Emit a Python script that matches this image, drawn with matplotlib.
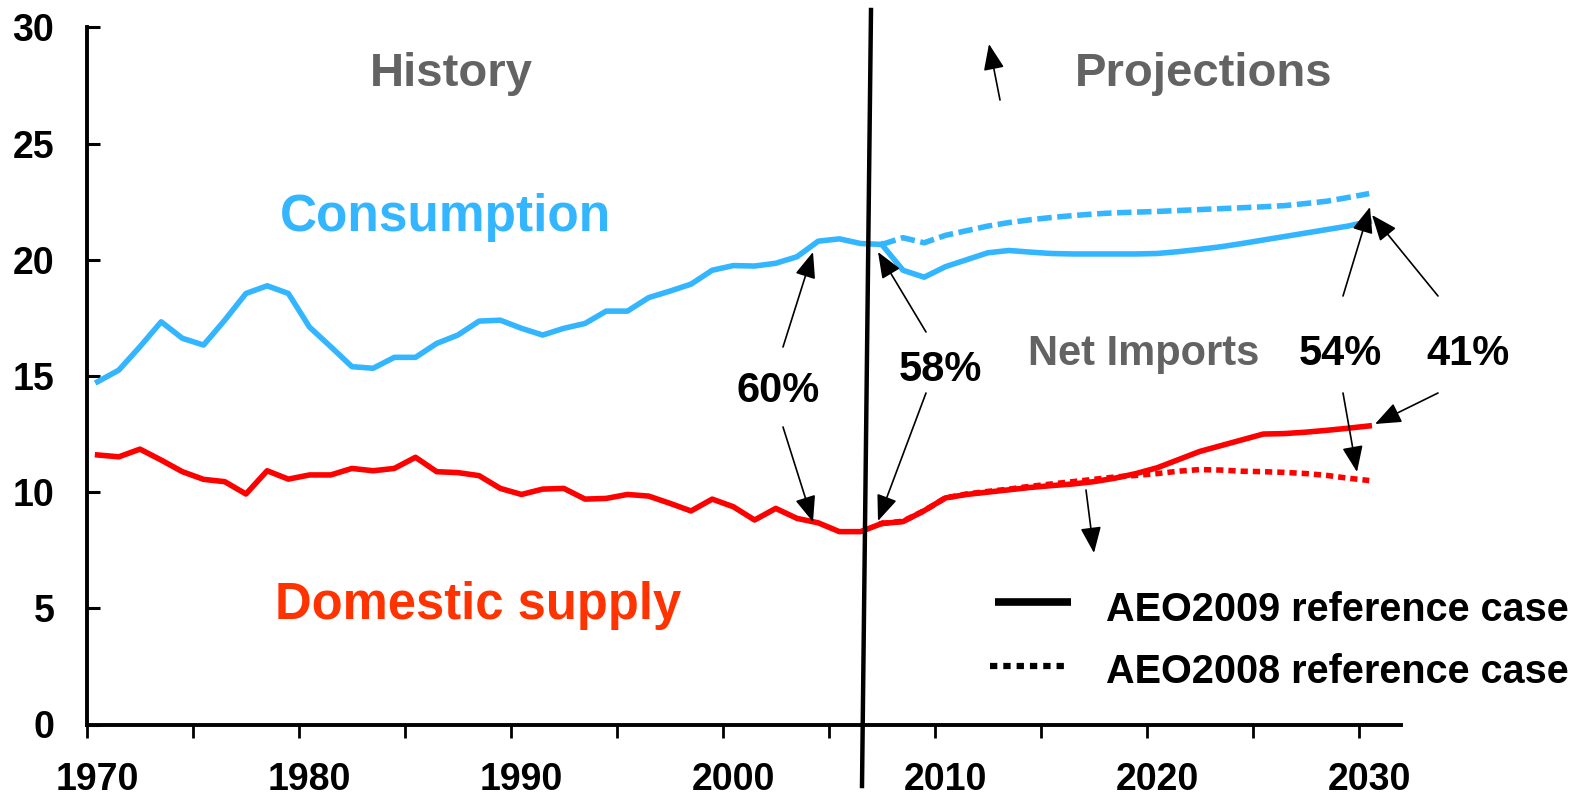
import matplotlib

matplotlib.use("Agg")
import matplotlib.pyplot as plt
from matplotlib.lines import Line2D
from matplotlib.patches import FancyArrowPatch

plt.rcParams["font.family"] = ["Liberation Sans", "DejaVu Sans"]
plt.rcParams["font.weight"] = "bold"

# history, 1970-2007 (million barrels per day)
years_hist = list(range(1970, 2008))
consumption_hist = [14.75, 15.25, 16.26, 17.33, 16.62, 16.33, 17.4, 18.55, 18.88, 18.55,
                    17.1, 16.26, 15.4, 15.33, 15.8, 15.8, 16.4, 16.76, 17.36, 17.4,
                    17.05, 16.76, 17.05, 17.26, 17.79, 17.79, 18.37, 18.65, 18.95, 19.55,
                    19.75, 19.73, 19.85, 20.13, 20.8, 20.9, 20.7, 20.66]
supply_hist = [11.6, 11.52, 11.85, 11.38, 10.88, 10.55, 10.45, 9.92, 10.92, 10.56,
               10.74, 10.74, 11.02, 10.92, 11.02, 11.5, 10.88, 10.84, 10.71, 10.16,
               9.9, 10.13, 10.16, 9.7, 9.73, 9.9, 9.83, 9.52, 9.19, 9.7,
               9.37, 8.8, 9.3, 8.87, 8.68, 8.3, 8.3, 8.65]

# projections, 2007-2030
years_proj = list(range(2007, 2031))
consumption_aeo2009 = [20.66, 19.55, 19.25, 19.7, 20.0, 20.3, 20.4, 20.33, 20.27, 20.25,
                       20.25, 20.25, 20.25, 20.27, 20.35, 20.45, 20.56, 20.7, 20.85, 21.0,
                       21.15, 21.3, 21.45, 21.65]
consumption_aeo2008 = [20.66, 20.95, 20.73, 21.05, 21.25, 21.45, 21.6, 21.72, 21.82, 21.9,
                       21.97, 22.02, 22.05, 22.08, 22.12, 22.16, 22.2, 22.24, 22.28, 22.33,
                       22.42, 22.52, 22.68, 22.85]
supply_aeo2009 = [8.65, 8.73, 9.2, 9.75, 9.9, 10.0, 10.1, 10.2, 10.28, 10.35,
                  10.45, 10.6, 10.8, 11.05, 11.4, 11.75, 12.0, 12.25, 12.5, 12.52,
                  12.58, 12.66, 12.75, 12.85]
supply_aeo2008 = [8.65, 8.75, 9.2, 9.75, 9.92, 10.03, 10.13, 10.25, 10.35, 10.45,
                  10.55, 10.65, 10.72, 10.8, 10.9, 10.97, 10.95, 10.9, 10.88, 10.85,
                  10.8, 10.72, 10.6, 10.5]

decade_labels = [1970, 1980, 1990, 2000, 2010, 2020, 2030]

BLUE = "#33B6FF"
RED = "#FF0000"
GRAY = "#636363"
LW = 4.0
W, H = 1591, 795


def fp(x, y):
    """pixel position in the picture -> figure fraction"""
    return (x / W, 1 - y / H)


fig = plt.figure(figsize=(W / 100, H / 100), dpi=100)
ax = fig.add_axes([87 / W, (H - 724.5) / H, (1401 - 87) / W, (724.5 - 27.4) / H])

ax.plot(years_hist, consumption_hist, color=BLUE, lw=LW, solid_joinstyle="round")
ax.plot(years_hist, supply_hist, color=RED, lw=LW, solid_joinstyle="round")
ax.plot(years_proj, consumption_aeo2009, color=BLUE, lw=LW)
ax.plot(years_proj, supply_aeo2009, color=RED, lw=LW)
ax.plot(years_proj, consumption_aeo2008, color=BLUE, lw=LW, dashes=(2.6, 1.0))
ax.plot(years_proj, supply_aeo2008, color=RED, lw=LW, dashes=(1.3, 0.9))

ax.set_xlim(1969.5, 2031.5)
ax.set_ylim(0, 30)
ax.set_xticks([1969.5 + 5 * k for k in range(13)])
ax.set_xticklabels([])
ax.set_xticks(decade_labels, minor=True)
ax.set_xticklabels([str(y) for y in decade_labels], minor=True)
ax.set_yticks(range(0, 31, 5))
ax.tick_params(axis="x", which="major", direction="out", length=9.5, width=2)
ax.tick_params(axis="x", which="minor", length=0, pad=27, labelsize=27)
ax.tick_params(axis="y", direction="in", length=9, width=2.2, pad=23.5, labelsize=27)
for lab in ax.get_xticklabels(minor=True) + ax.get_yticklabels():
    lab.set_fontweight("bold")
for side in ("top", "right"):
    ax.spines[side].set_visible(False)
for side in ("left", "bottom"):
    ax.spines[side].set_linewidth(2.8)

# history / projections divider
fig.add_artist(Line2D([fp(871, 10)[0], fp(862, 786)[0]], [fp(871, 10)[1], fp(862, 786)[1]],
                      transform=fig.transFigure, color="black", lw=3.2))

texts = [
    ("History", 451, 86, GRAY, 34),
    ("Projections", 1204, 86, GRAY, 34),
    ("Consumption", 446, 231, BLUE, 37),
    ("Domestic supply", 478, 619, "#FF3300", 36.5),
    ("Net Imports", 1144, 365, GRAY, 30),
    ("60%", 778, 402, "black", 30),
    ("58%", 940, 381, "black", 30),
    ("54%", 1340, 365, "black", 30),
    ("41%", 1468, 365, "black", 30),
]
for s, x, y, c, size in texts:
    fig.text(*fp(x, y), s, color=c, fontsize=size, fontweight="bold",
             ha="center", va="baseline")

arrows = [
    ((783, 347), (813, 252)),
    ((783, 427), (813, 522)),
    ((926, 332), (878, 252)),
    ((926, 393), (878, 521)),
    ((1343, 296), (1370, 207)),
    ((1438, 296), (1372, 215)),
    ((1343, 393), (1357, 472)),
    ((1438, 393), (1375, 424)),
    ((1000, 100), (989, 44)),
    ((1086, 490), (1094, 553)),
]
for tail, tip in arrows:
    fig.add_artist(FancyArrowPatch(
        fp(*tail), fp(*tip), transform=fig.transFigure,
        arrowstyle="-|>,head_length=0.8,head_width=0.32", mutation_scale=20,
        color="black", lw=1.2, shrinkA=0, shrinkB=0))

# legend
fig.add_artist(Line2D([fp(995, 0)[0], fp(1071, 0)[0]], [fp(0, 602)[1]] * 2,
                      transform=fig.transFigure, color="black", lw=5.5,
                      solid_capstyle="butt"))
fig.add_artist(Line2D([fp(990, 0)[0], fp(1064, 0)[0]], [fp(0, 666)[1]] * 2,
                      transform=fig.transFigure, color="black", lw=4.5,
                      dashes=(1.17, 0.96), dash_capstyle="butt"))
fig.text(*fp(1106, 621), "AEO2009 reference case", fontsize=28.5, fontweight="bold", va="baseline")
fig.text(*fp(1106, 683), "AEO2008 reference case", fontsize=28.5, fontweight="bold", va="baseline")

fig.savefig("out.png", dpi=100, facecolor="white")
